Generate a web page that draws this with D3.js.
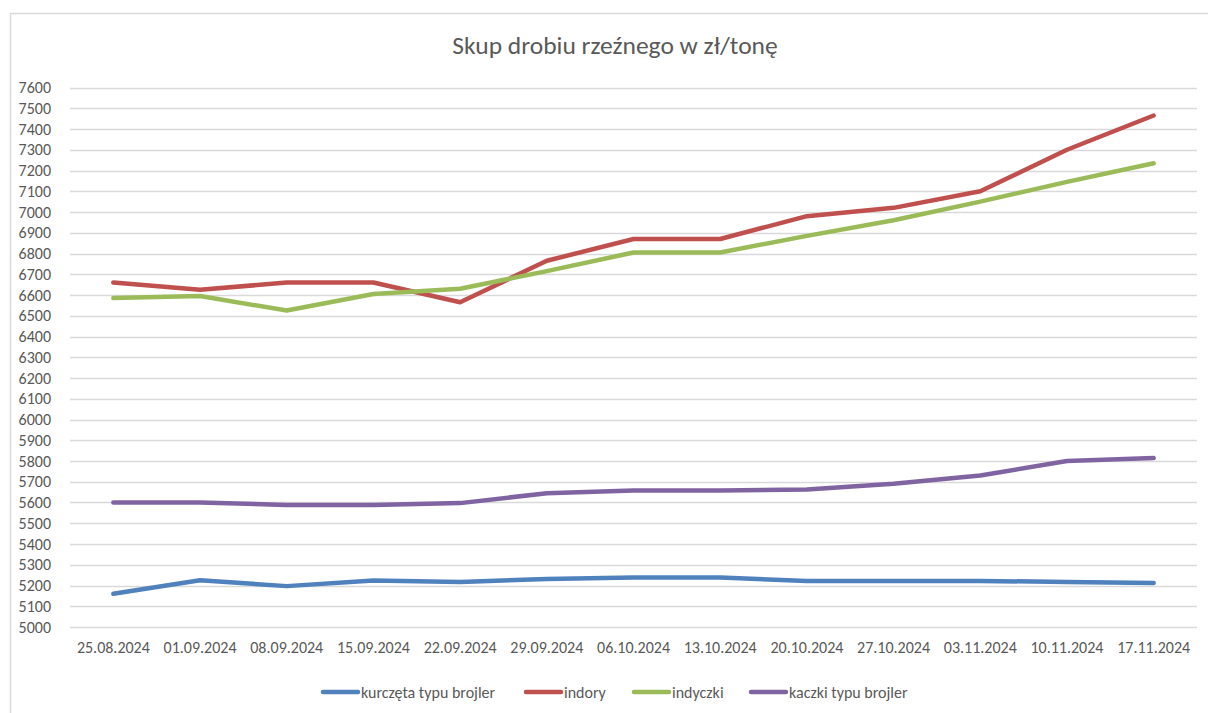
<!DOCTYPE html>
<html>
<head>
<meta charset="utf-8">
<script src="https://cdn.jsdelivr.net/npm/d3@7"></script>
<style>
  body { margin: 0; background: #fff; }
  svg { display: block; font-family: Carlito, Calibri, Lato, "Open Sans", sans-serif; }
</style>
</head>
<body>
<div id="chart"></div>
<script>
const dates = ["25.08.2024", "01.09.2024", "08.09.2024", "15.09.2024", "22.09.2024", "29.09.2024",
  "06.10.2024", "13.10.2024", "20.10.2024", "27.10.2024", "03.11.2024", "10.11.2024", "17.11.2024"];

const kurczeta = [5160, 5225, 5197, 5224, 5217, 5231, 5238, 5238, 5222, 5222, 5222, 5217, 5212];
const indory = [6660, 6625, 6660, 6660, 6565, 6765, 6870, 6870, 6980, 7020, 7100, 7300, 7465];
const indyczki = [6585, 6595, 6525, 6605, 6630, 6715, 6805, 6805, 6885, 6960, 7050, 7145, 7235];
const kaczki = [5600, 5600, 5588, 5588, 5597, 5645, 5658, 5658, 5663, 5690, 5730, 5800, 5814];

const seriesNames = ["kurczęta typu brojler", "indory", "indyczki", "kaczki typu brojler"];
const seriesColors = ["#4F81BD", "#C0504D", "#9BBB59", "#8064A2"];
const yTicks = d3.range(5000, 7601, 100);

const series = [kurczeta, indory, indyczki, kaczki].map((v, i) => ({
  name: seriesNames[i], color: seriesColors[i], values: v
}));

const width = 1208, height = 713;
const margin = { left: 70, right: 11, top: 87.5, bottom: 86 };
const font = "Carlito, Calibri, Lato, 'Open Sans', sans-serif";

const svg = d3.select("#chart")
  .append("svg")
  .attr("width", width)
  .attr("height", height);

// outer chart frame
svg.append("rect")
  .attr("x", 10.5)
  .attr("y", 13.5)
  .attr("width", 1220)
  .attr("height", 730)
  .attr("fill", "#fff")
  .attr("stroke", "#D9D9D9")
  .attr("stroke-width", 1.5);

svg.append("text")
  .attr("x", 615)
  .attr("y", 54)
  .attr("text-anchor", "middle")
  .attr("font-size", 25.5)
  .attr("fill", "#595959")
  .text("Skup drobiu rzeźnego w zł/tonę");

const x = d3.scaleBand()
  .domain(dates)
  .range([margin.left, width - margin.right]);

const y = d3.scaleLinear()
  .domain([5000, 7600])
  .range([height - margin.bottom, margin.top]);

// gridlines
svg.append("g")
  .selectAll("line")
  .data(yTicks)
  .join("line")
  .attr("x1", margin.left)
  .attr("x2", width - margin.right)
  .attr("y1", d => Math.round(y(d)) + 0.5)
  .attr("y2", d => Math.round(y(d)) + 0.5)
  .attr("stroke", "#D9D9D9")
  .attr("stroke-width", 1.3);

// y axis labels
const yAxis = svg.append("g")
  .attr("transform", `translate(${margin.left - 16},0)`)
  .call(d3.axisLeft(y).tickValues(yTicks).tickSize(0).tickFormat(d3.format("d")));
yAxis.select(".domain").remove();
yAxis.selectAll("text")
  .attr("font-family", font)
  .attr("font-size", 16)
  .attr("fill", "#595959");

// x axis labels
const xAxis = svg.append("g")
  .attr("transform", `translate(0,${height - margin.bottom + 12})`)
  .call(d3.axisBottom(x).tickSize(0));
xAxis.select(".domain").remove();
xAxis.selectAll("text")
  .attr("font-family", font)
  .attr("font-size", 16)
  .attr("fill", "#595959");

const line = d3.line()
  .x((d, i) => x(dates[i]) + x.bandwidth() / 2)
  .y(d => y(d));

svg.append("g")
  .selectAll("path")
  .data(series)
  .join("path")
  .attr("d", d => line(d.values))
  .attr("fill", "none")
  .attr("stroke", d => d.color)
  .attr("stroke-width", 4.5)
  .attr("stroke-linecap", "round")
  .attr("stroke-linejoin", "round");

// legend
const legendX = [321, 524, 632, 749];
const legend = svg.append("g")
  .selectAll("g")
  .data(series)
  .join("g")
  .attr("transform", (d, i) => `translate(${legendX[i]},692)`);

legend.append("line")
  .attr("x1", 2)
  .attr("x2", 37)
  .attr("stroke", d => d.color)
  .attr("stroke-width", 4.5)
  .attr("stroke-linecap", "round");

legend.append("text")
  .attr("x", 40)
  .attr("dy", "0.35em")
  .attr("font-size", 16)
  .attr("fill", "#595959")
  .text(d => d.name);
</script>
</body>
</html>
